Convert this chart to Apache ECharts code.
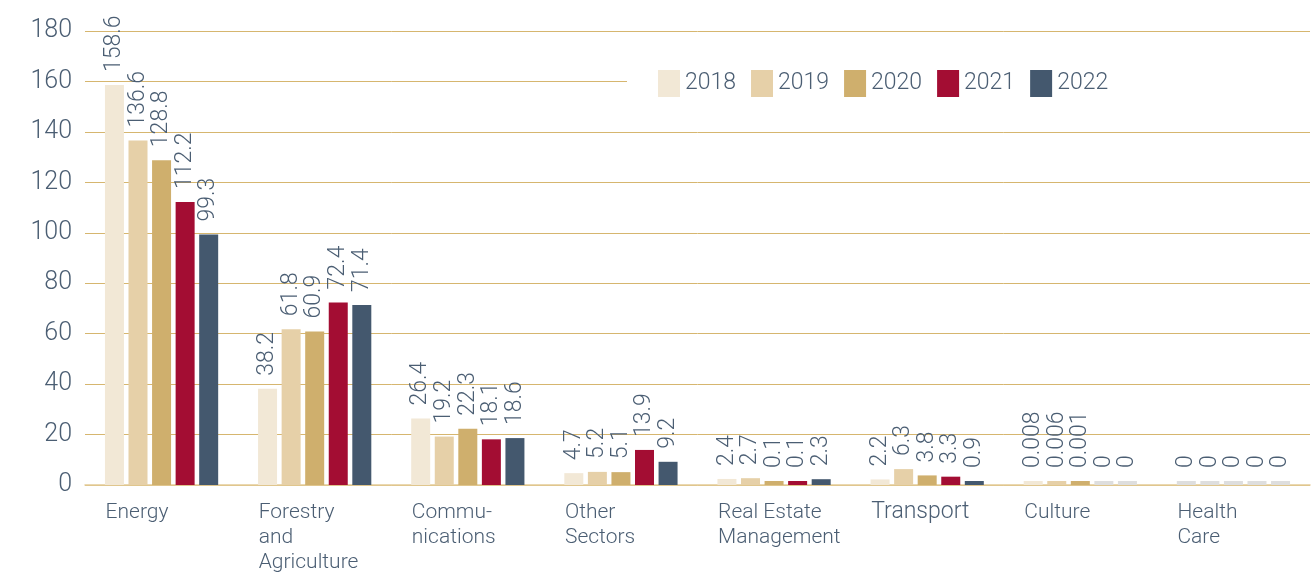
<!DOCTYPE html>
<html>
<head>
<meta charset="utf-8">
<script src="https://cdn.jsdelivr.net/npm/echarts@6/dist/echarts.min.js"></script>
<style>
  html, body { margin: 0; padding: 0; background: #fff; }
  #chart { width: 1316px; height: 574px; }
</style>
</head>
<body>
<div id="chart"></div>
<script>
  // categories, one label line per array entry
  const categories = [
    ["Energy"],
    ["Forestry", "and", "Agriculture"],
    ["Commu-", "nications"],
    ["Other", "Sectors"],
    ["Real Estate", "Management"],
    ["Transport"],
    ["Culture"],
    ["Health", "Care"]
  ];
  const years = ["2018", "2019", "2020", "2021", "2022"];
  const v2018 = [158.6, 38.2, 26.4, 4.7, 2.4, 2.2, 0.008, 0];
  const v2019 = [136.6, 61.8, 19.2, 5.2, 2.7, 6.3, 0.006, 0];
  const v2020 = [128.8, 60.9, 22.3, 5.1, 0.1, 3.8, 0.001, 0];
  const v2021 = [112.2, 72.4, 18.1, 13.9, 0.1, 3.3, 0, 0];
  const v2022 = [99.3, 71.4, 18.6, 9.2, 2.3, 0.9, 0, 0];
  const yTicks = [0, 20, 40, 60, 80, 100, 120, 140, 160, 180];

  const seriesValues = [v2018, v2019, v2020, v2021, v2022];
  const colors = ["#F2E8D6", "#E6D0A8", "#CFAF6D", "#A30D33", "#44586E"];
  const TXT = "#4B5E73";
  const FONT = "Roboto, 'Open Sans', sans-serif";
  const W = 300;

  const chart = echarts.init(document.getElementById("chart"), null, { renderer: "canvas" });

  // zero values get a small grey stub (barMinHeight), as in the original
  const series = years.map((y, i) => ({
    name: y,
    type: "bar",
    barWidth: 19,
    barGap: "24%",
    barMinHeight: 4,
    itemStyle: { color: colors[i] },
    data: seriesValues[i].map((v) => v === 0
      ? { value: v, itemStyle: { color: "#DEDEDE" } }
      : v),
    label: {
      show: true, position: "top", rotate: 90, distance: 13,
      align: "left", verticalAlign: "middle",
      color: TXT, fontSize: 23, fontFamily: FONT, fontWeight: W
    }
  }));

  chart.setOption({
    animation: false,
    textStyle: { fontFamily: FONT },
    grid: { left: 85, right: 6, top: 31, bottom: 89 },
    legend: {
      data: years,
      left: 627, top: 64, width: 460,
      backgroundColor: "#fff",
      padding: [6, 225, 6, 31],
      itemWidth: 22, itemHeight: 27, itemGap: 15,
      icon: "rect",
      textStyle: { color: TXT, fontSize: 23, fontFamily: FONT, fontWeight: W }
    },
    xAxis: {
      type: "category",
      data: categories.map((c) => c.join("\n")),
      axisLine: { lineStyle: { color: "#E3CB98", width: 1.5 } },
      axisTick: { show: false },
      axisLabel: {
        margin: 15, interval: 0, align: "center", color: TXT,
        formatter: (val) => val.split("\n")
          .map((l) => (l === "Transport" ? "{b|" + l + "}" : "{a|" + l + "}")).join("\n"),
        rich: {
          a: { width: 112, align: "left", fontSize: 21, lineHeight: 25, color: TXT, fontFamily: FONT, fontWeight: W },
          b: { width: 112, align: "left", fontSize: 23, lineHeight: 25, color: TXT, fontFamily: FONT, fontWeight: W }
        }
      }
    },
    yAxis: {
      type: "value",
      min: yTicks[0], max: yTicks[yTicks.length - 1], interval: yTicks[1] - yTicks[0],
      axisLine: { show: false },
      axisTick: { show: false },
      splitLine: { lineStyle: { color: "#D6B66F", width: 1 } },
      axisLabel: { color: TXT, fontSize: 25, margin: 13, fontFamily: FONT, fontWeight: W }
    },
    series: series
  });
</script>
</body>
</html>
